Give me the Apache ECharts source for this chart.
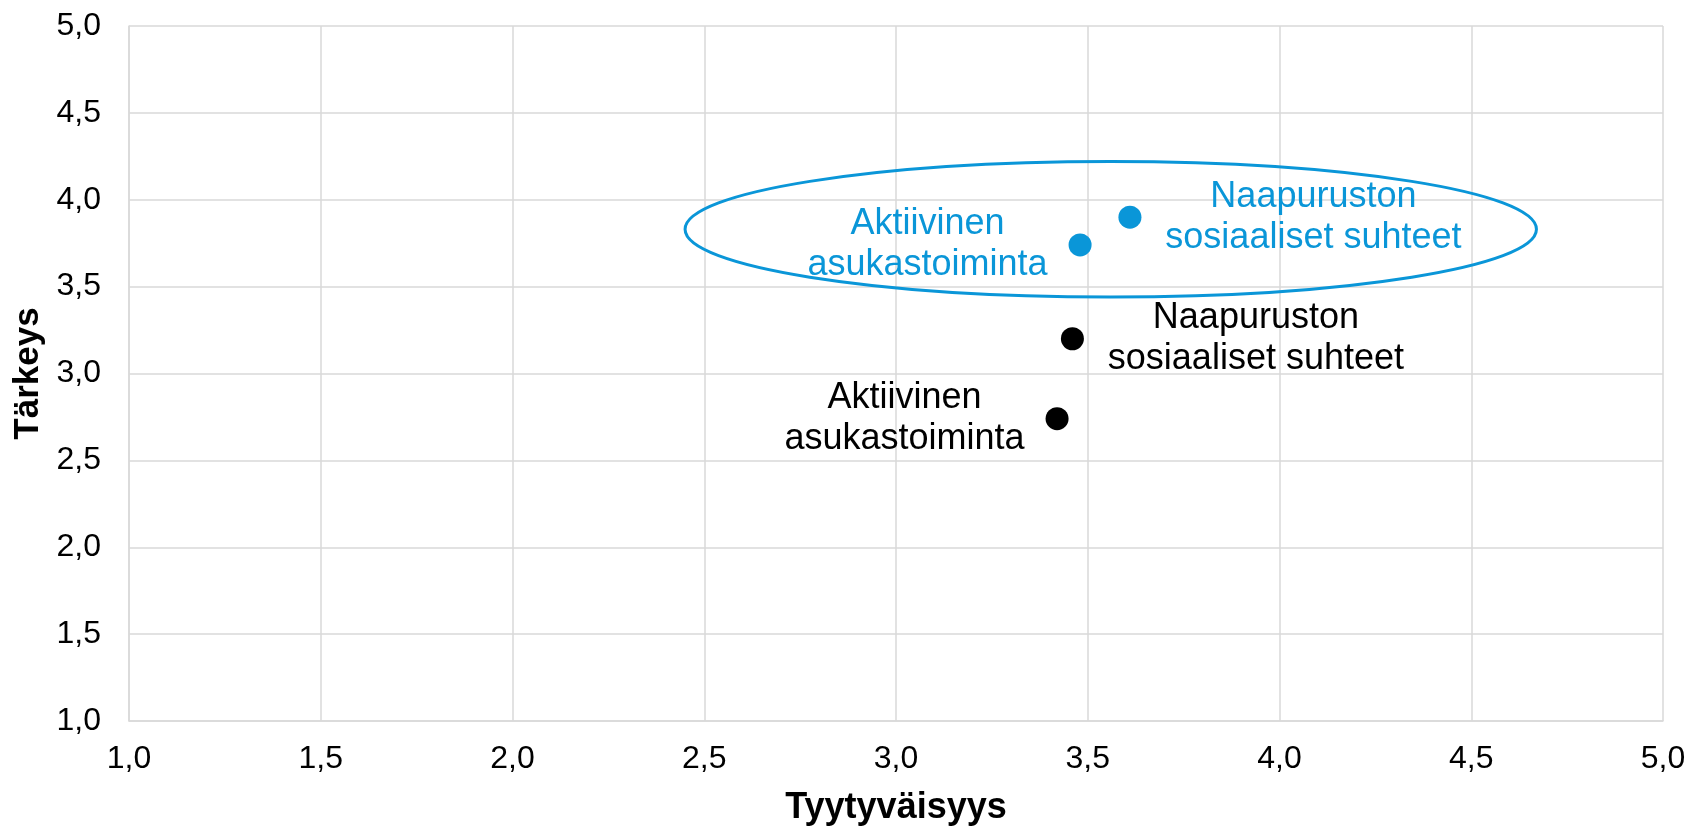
<!DOCTYPE html>
<html>
<head>
<meta charset="utf-8">
<title>Tyytyväisyys ja tärkeys</title>
<script src="https://cdn.jsdelivr.net/npm/echarts@6/dist/echarts.min.js"></script>
<style>
  html, body { margin: 0; padding: 0; background: #fff; }
  #main { width: 1688px; height: 826px; }
</style>
</head>
<body>
<div id="main"></div>
<script>
// aiheet (kaksi riviä nimessä)
const topics = ['Aktiivinen\nasukastoiminta', 'Naapuruston\nsosiaaliset suhteet']
// sininen ryhmä
const blueSatisfaction = [3.48, 3.61]
const blueImportance = [3.74, 3.90]
// musta ryhmä
const blackSatisfaction = [3.42, 3.46]
const blackImportance = [2.74, 3.20]
// korostusellipsi: keskipiste x, y ja säteet x, y (data-arvoina)
const highlight = [3.56, 3.83, 1.11, 0.39]

const axisMin = 1
const axisMax = 5
const axisStep = 0.5

const BLUE = '#0A96D8'
const FONT = 'Liberation Sans, Arial, sans-serif'

// label paikat pisteeseen nähden (vasen / oikea)
const labelPos = [[-141, 11.5], [195, 11.5]]

function points (xs, ys) {
  return topics.map((name, i) => ({
    name: name,
    value: [xs[i], ys[i]],
    label: { position: labelPos[i] }
  }))
}

const fmt = (v) => v.toFixed(1).replace('.', ',')

let myChart = echarts.init(document.getElementById('main'))
let option = {
  animation: false,
  backgroundColor: '#fff',
  grid: {
    left: 129,
    right: 25,
    top: 26,
    bottom: 105,
    outerBoundsMode: 'none'
  },
  xAxis: {
    type: 'value',
    min: axisMin,
    max: axisMax,
    interval: axisStep,
    name: 'Tyytyväisyys',
    nameLocation: 'middle',
    nameGap: 69,
    nameTextStyle: {
      color: '#000',
      fontSize: 36,
      fontWeight: 'bold',
      fontFamily: FONT
    },
    axisLine: { show: true, lineStyle: { color: '#D9D9D9', width: 1.5 } },
    axisTick: { show: false },
    splitLine: { show: true, lineStyle: { color: '#D9D9D9', width: 1.5 } },
    axisLabel: {
      color: '#000',
      fontSize: 32,
      fontFamily: FONT,
      margin: 22,
      formatter: fmt
    }
  },
  yAxis: {
    type: 'value',
    min: axisMin,
    max: axisMax,
    interval: axisStep,
    name: 'Tärkeys',
    nameLocation: 'middle',
    nameGap: 79,
    nameTextStyle: {
      color: '#000',
      fontSize: 35,
      fontWeight: 'bold',
      fontFamily: FONT
    },
    axisLine: { show: true, lineStyle: { color: '#D9D9D9', width: 1.5 } },
    axisTick: { show: false },
    splitLine: { show: true, lineStyle: { color: '#D9D9D9', width: 1.5 } },
    axisLabel: {
      color: '#000',
      fontSize: 32,
      fontFamily: FONT,
      margin: 28,
      formatter: fmt
    }
  },
  series: [
    {
      name: 'korostus',
      type: 'custom',
      silent: true,
      z: 1,
      encode: { x: 0, y: 1 },
      data: [highlight],
      renderItem: (params, api) => {
        const c = api.coord([api.value(0), api.value(1)])
        const s = api.size([api.value(2), api.value(3)])
        return {
          type: 'ellipse',
          shape: { cx: c[0], cy: c[1], rx: s[0], ry: s[1] },
          style: { fill: 'none', stroke: BLUE, lineWidth: 3 }
        }
      }
    },
    {
      name: 'sininen',
      type: 'scatter',
      symbolSize: 23,
      z: 3,
      itemStyle: { color: BLUE, opacity: 1 },
      label: {
        show: true,
        formatter: (p) => p.name,
        align: 'center',
        verticalAlign: 'middle',
        color: BLUE,
        opacity: 1,
        fontSize: 36,
        lineHeight: 41,
        fontFamily: FONT
      },
      data: points(blueSatisfaction, blueImportance)
    },
    {
      name: 'musta',
      type: 'scatter',
      symbolSize: 23,
      z: 3,
      itemStyle: { color: '#000', opacity: 1 },
      label: {
        show: true,
        formatter: (p) => p.name,
        align: 'center',
        verticalAlign: 'middle',
        color: '#000',
        opacity: 1,
        fontSize: 36,
        lineHeight: 41,
        fontFamily: FONT
      },
      data: points(blackSatisfaction, blackImportance)
    }
  ]
}
myChart.setOption(option)
</script>
</body>
</html>
